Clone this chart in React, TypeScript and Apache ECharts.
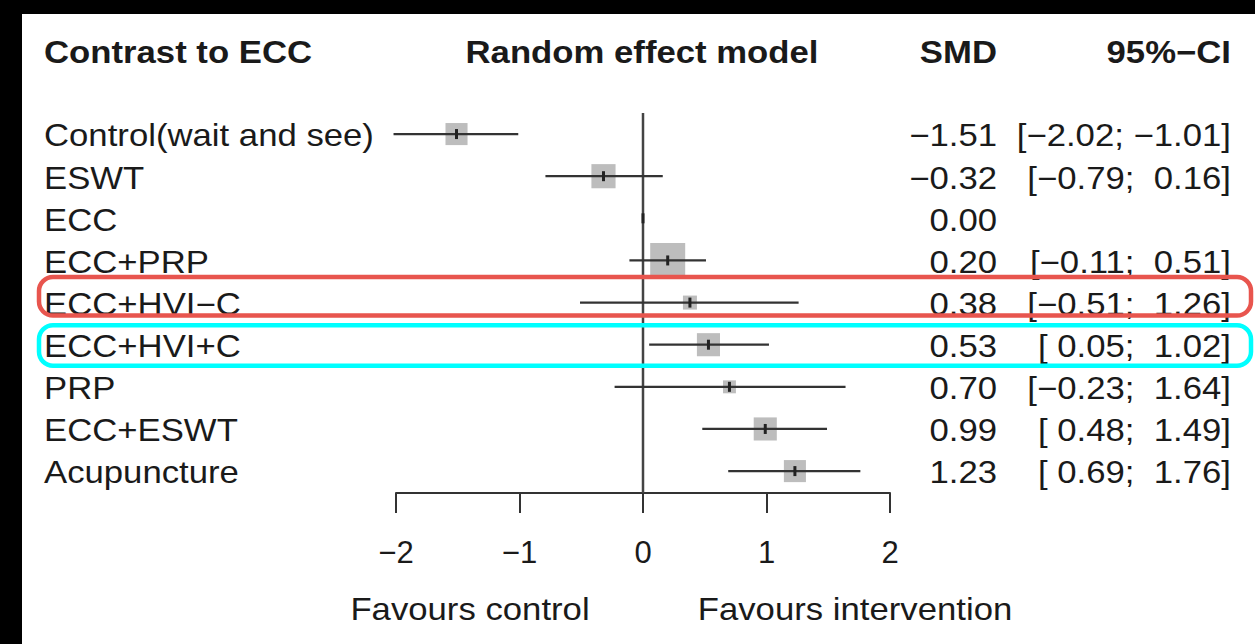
import React, { useEffect, useRef } from 'react';
import * as echarts from 'echarts';

// ---- data ----
const studies = [
  'Control(wait and see)',
  'ESWT',
  'ECC',
  'ECC+PRP',
  'ECC+HVI\u2212C',
  'ECC+HVI+C',
  'PRP',
  'ECC+ESWT',
  'Acupuncture',
];
const smd = [-1.51, -0.32, 0.0, 0.2, 0.38, 0.53, 0.7, 0.99, 1.23];
const ciLower: (number | null)[] = [-2.02, -0.79, null, -0.11, -0.51, 0.05, -0.23, 0.48, 0.69];
const ciUpper: (number | null)[] = [-1.01, 0.16, null, 0.51, 1.26, 1.02, 1.64, 1.49, 1.76];
// relative weight of each comparison (drawn as box size)
const weights = [0.63, 0.69, 0, 1.0, 0.4, 0.66, 0.37, 0.66, 0.63];
const xTicks = [-2, -1, 0, 1, 2];

const headerStudy = 'Contrast to ECC';
const headerModel = 'Random effect model';
const headerSmd = 'SMD';
const headerCi = '95%\u2212CI';
const favourLeft = 'Favours control';
const favourRight = 'Favours intervention';

// highlighted rows
const highlightRows = [4, 5];
const highlightColors = ['#e8554e', '#00ffff'];

// ---- styles ----
const FONT = '"Liberation Sans", Arial, Helvetica, sans-serif';
const FS = 31;
const SX = 1.12;
const TXT = '#1a1a1a';
const BOX_SCALE = 35;
const Y_MIN = -0.5;
const Y_MAX = 8.52;
const boxOffsets = [
  { dy: -25.5, h: 38.5 },
  { dy: -19.5, h: 40.5 },
];

const fmt = (v: number) => (v < 0 ? '\u2212' : '\u00A0') + Math.abs(v).toFixed(2);
const fmtSmd = (v: number) => (v < 0 ? '\u2212' : '') + Math.abs(v).toFixed(2);
const ciText = (i: number) =>
  ciLower[i] == null ? '' : '[' + fmt(ciLower[i] as number) + ';\u00A0' + fmt(ciUpper[i] as number) + ']';

export default function App() {
  const ref = useRef<HTMLDivElement>(null);
  useEffect(() => {
    if (!ref.current) return;
    const chart = echarts.init(ref.current, null, { renderer: 'svg' });
    const txt = (text: string, x: number, y: number, align: string, bold = false) => ({
      type: 'text',
      x,
      y,
      scaleX: SX,
      style: {
        text,
        fontSize: FS,
        fontFamily: FONT,
        fontWeight: bold ? 'bold' : 'normal',
        fill: TXT,
        align,
        verticalAlign: 'middle',
      },
    });
    const option: any = {
      animation: false,
      backgroundColor: '#fff',
      grid: { left: 374, width: 494, top: 99, height: 380 },
      xAxis: {
        type: 'value',
        min: xTicks[0],
        max: xTicks[xTicks.length - 1],
        interval: 1,
        axisLine: { show: true, onZero: false, lineStyle: { color: '#333', width: 2 } },
        axisTick: { show: true, length: 20, lineStyle: { color: '#333', width: 2 } },
        axisLabel: {
          fontSize: 31,
          fontFamily: FONT,
          color: TXT,
          margin: 44,
          formatter: (v: number) => (v < 0 ? '\u2212' + Math.abs(v) : String(v)),
        },
        splitLine: { show: false },
      },
      yAxis: {
        type: 'value',
        inverse: true,
        min: Y_MIN,
        max: Y_MAX,
        show: false,
      },
      graphic: [
        txt(headerStudy, 22, 38, 'left', true),
        txt(headerModel, 620, 38, 'center', true),
        txt(headerSmd, 975, 38, 'right', true),
        txt(headerCi, 1209, 38, 'right', true),
        txt(favourLeft, 448, 595, 'center'),
        txt(favourRight, 833, 595, 'center'),
      ],
      series: [
        {
          type: 'line',
          data: [
            [0, Y_MIN],
            [0, Y_MAX],
          ],
          showSymbol: false,
          silent: true,
          lineStyle: { color: '#444', width: 2.5 },
          z: 1,
        },
        {
          type: 'custom',
          clip: false,
          z: 3,
          data: highlightRows.map((r, k) => [0, r, k]),
          renderItem: (params: any, api: any) => {
            const k = params.dataIndex;
            const r = highlightRows[k];
            const p = api.coord([0, r]);
            const o = boxOffsets[k];
            return {
              type: 'rect',
              shape: { x: 17, y: p[1] + o.dy, width: 1212, height: o.h, r: 14 },
              style: { fill: 'none', stroke: highlightColors[k], lineWidth: 4.5 },
            };
          },
        },
        {
          type: 'custom',
          clip: false,
          z: 2,
          data: smd.map((v, i) => [v, i]),
          renderItem: (params: any, api: any) => {
            const i = params.dataIndex;
            const c = api.coord([smd[i], i]);
            const cx = c[0];
            const cy = c[1];
            const children: any[] = [];
            const s = weights[i] * BOX_SCALE;
            if (s > 0) {
              children.push({
                type: 'rect',
                shape: { x: cx - s / 2, y: cy - s / 2, width: s, height: s },
                style: { fill: '#bdbdbd' },
              });
            }
            if (ciLower[i] != null && ciUpper[i] != null) {
              const p1 = api.coord([ciLower[i], i]);
              const p2 = api.coord([ciUpper[i], i]);
              children.push({
                type: 'line',
                shape: { x1: p1[0], y1: cy, x2: p2[0], y2: cy },
                style: { stroke: '#333', lineWidth: 2.2 },
              });
            }
            children.push({
              type: 'line',
              shape: { x1: cx, y1: cy - 5, x2: cx, y2: cy + 5 },
              style: { stroke: '#222', lineWidth: 3 },
            });
            children.push(txt(studies[i], 22, cy + 1.5, 'left'));
            children.push(txt(fmtSmd(smd[i]), 975, cy + 1.5, 'right'));
            const ct = ciText(i);
            if (ct) children.push(txt(ct, 1209, cy + 1.5, 'right'));
            return { type: 'group', children };
          },
        },
      ],
    };
    chart.setOption(option);
    return () => chart.dispose();
  }, []);
  return (
    <div style={{ position: 'fixed', left: 0, top: 0, width: 1255, height: 644, background: '#000' }}>
      <div
        ref={ref}
        style={{ position: 'absolute', left: 22, top: 14, width: 1233, height: 630, background: '#fff' }}
      />
    </div>
  );
}
